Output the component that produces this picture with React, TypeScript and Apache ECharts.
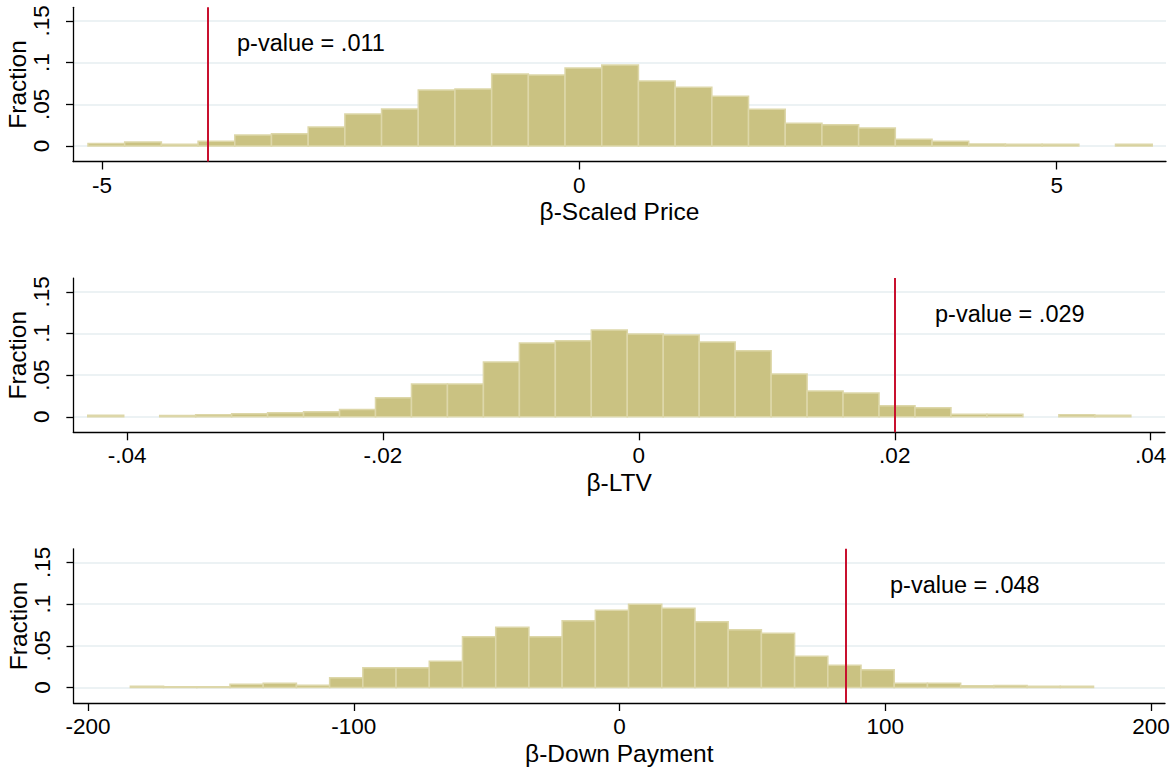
import React, { useEffect, useRef } from "react";
import * as echarts from "echarts";

// ---- Panel 1: beta-Scaled Price ----
const priceBinStart = -5.147;
const priceBinWidth = 0.3844;
const priceFractions = [
  0.003, 0.0048, 0.002, 0.0056, 0.0132, 0.0148, 0.0228, 0.0384, 0.0444, 0.0672,
  0.0684, 0.0864, 0.0852, 0.0936, 0.0972, 0.078, 0.0704, 0.0596, 0.044, 0.0272,
  0.0256, 0.0216, 0.008, 0.0056, 0.0024, 0.002, 0.002, 0, 0.002,
];
const priceTicks = [-5, 0, 5];
const priceObserved = -3.89;
const priceLabel = "p-value = .011";
const priceTitle = "β-Scaled Price";

// ---- Panel 2: beta-LTV ----
const ltvBinStart = -0.04307;
const ltvBinWidth = 0.002811;
const ltvFractions = [
  0.002, 0, 0.0016, 0.0024, 0.0036, 0.0048, 0.006, 0.0088, 0.0228, 0.0392,
  0.0392, 0.0656, 0.0884, 0.0912, 0.104, 0.0992, 0.098, 0.0896, 0.0792, 0.0512,
  0.0308, 0.0284, 0.0132, 0.0108, 0.0032, 0.0032, 0, 0.0024, 0.002,
];
const ltvTicks = [-0.04, -0.02, 0, 0.02, 0.04];
const ltvObserved = 0.0203;
const ltvLabel = "p-value = .029";
const ltvTitle = "β-LTV";

// ---- Panel 3: beta-Down Payment ----
const dpBinStart = -184.1;
const dpBinWidth = 12.5;
const dpFractions = [
  0.0016, 0.001, 0.0008, 0.004, 0.0052, 0.0028, 0.0116, 0.0236, 0.0236, 0.0316,
  0.0608, 0.0724, 0.0608, 0.08, 0.0928, 0.1, 0.0952, 0.0788, 0.0692, 0.0652,
  0.0376, 0.0268, 0.0212, 0.0052, 0.0052, 0.002, 0.0024, 0.0016, 0.0016,
];
const dpTicks = [-200, -100, 0, 100, 200];
const dpObserved = 85.2;
const dpLabel = "p-value = .048";
const dpTitle = "β-Down Payment";

const fractionTicks = [0, 0.05, 0.1, 0.15];
const yTitle = "Fraction";

const FONT = "Arial, 'Liberation Sans', Helvetica, sans-serif";
const BAR_FILL = "#cac282";
const BAR_EDGE = "#ddd7a9";
const RED = "#c8102e";
const GRID_COLOR = "#e6eef1";

const stataNum = (v: number) => {
  const s = String(Math.round(v * 10000) / 10000);
  return s.replace(/^(-?)0\./, "$1.");
};

function binData(start: number, width: number, vals: number[]) {
  const out: number[][] = [];
  vals.forEach((h, i) => {
    if (h > 0) out.push([start + i * width, start + (i + 1) * width, h]);
  });
  return out;
}

export default function App() {
  const ref = useRef<HTMLDivElement>(null);
  useEffect(() => {
    if (!ref.current) return;
    const chart = echarts.init(ref.current, null, { renderer: "svg" });

    const panels = [
      { top: 7.3, xmin: -5.304, xmax: 6.145, left: 73, right: 1175 - 1166, ticks: priceTicks, data: binData(priceBinStart, priceBinWidth, priceFractions), obs: priceObserved, title: priceTitle },
      { top: 278.1, xmin: -0.0442, xmax: 0.04112, left: 73.3, right: 1175 - 1165, ticks: ltvTicks, data: binData(ltvBinStart, ltvBinWidth, ltvFractions), obs: ltvObserved, title: ltvTitle },
      { top: 548.8, xmin: -205.5, xmax: 205.3, left: 73.5, right: 1175 - 1165, ticks: dpTicks, data: binData(dpBinStart, dpBinWidth, dpFractions), obs: dpObserved, title: dpTitle },
    ];
    const gridH = 154.2;

    const option: any = {
      animation: false,
      backgroundColor: "#ffffff",
      textStyle: { fontFamily: FONT },
      grid: panels.map((p) => ({
        left: p.left,
        right: p.right,
        top: p.top,
        height: gridH,
        containLabel: false,
        outerBoundsMode: "none",
      })),
      xAxis: panels.map((p, i) => ({
        type: "value",
        gridIndex: i,
        min: p.xmin,
        max: p.xmax,
        name: p.title,
        nameLocation: "middle",
        nameGap: 37.5,
        nameMoveOverlap: false,
        nameTextStyle: { fontSize: 24.5, color: "#000", fontFamily: FONT },
        axisLine: { show: true, onZero: false, lineStyle: { color: "#000", width: 1.3 } },
        axisTick: { show: true, length: 8, lineStyle: { color: "#000", width: 1.3 }, customValues: p.ticks },
        axisLabel: { fontSize: 22.5, color: "#000", margin: 12, fontFamily: FONT, customValues: p.ticks, formatter: (v: number) => stataNum(v) },
        splitLine: { show: false },
      })),
      yAxis: panels.map((p, i) => ({
        type: "value",
        gridIndex: i,
        min: -0.0186,
        max: 0.1664,
        name: yTitle,
        nameLocation: "middle",
        nameGap: 43,
        nameMoveOverlap: false,
        nameTextStyle: { fontSize: 24.5, color: "#000", fontFamily: FONT },
        axisLine: { show: true, onZero: false, lineStyle: { color: "#000", width: 1.3 } },
        axisTick: { show: true, length: 7, lineStyle: { color: "#000", width: 1.3 }, customValues: fractionTicks },
        axisLabel: { fontSize: 22.5, color: "#000", margin: 20, rotate: 90, fontFamily: FONT, customValues: fractionTicks, formatter: (v: number) => stataNum(v) },
        splitLine: { show: true, lineStyle: { color: GRID_COLOR, width: 1.5 } },
      })),
      series: panels.flatMap((p, i) => [
        {
          type: "custom",
          xAxisIndex: i,
          yAxisIndex: i,
          z: 2,
          encode: { x: [0, 1], y: 2 },
          data: p.data,
          renderItem: (params: any, api: any) => {
            const a = api.coord([api.value(0), api.value(2)]);
            const b = api.coord([api.value(1), 0]);
            return {
              type: "rect",
              shape: { x: a[0], y: a[1], width: b[0] - a[0], height: b[1] - a[1] },
              style: { fill: BAR_FILL, stroke: BAR_EDGE, lineWidth: 1.5 },
            };
          },
        },
        {
          type: "line",
          xAxisIndex: i,
          yAxisIndex: i,
          z: 5,
          data: [],
          markLine: {
            silent: true,
            symbol: "none",
            label: { show: false },
            lineStyle: { color: RED, width: 2, type: "solid" },
            data: [{ xAxis: p.obs }],
          },
        },
      ]),
      graphic: [
        { type: "text", left: 237, top: 31, style: { text: priceLabel, fontSize: 23.5, fill: "#000", fontFamily: FONT } },
        { type: "text", left: 935, top: 302, style: { text: ltvLabel, fontSize: 23.5, fill: "#000", fontFamily: FONT } },
        { type: "text", left: 890, top: 573, style: { text: dpLabel, fontSize: 23.5, fill: "#000", fontFamily: FONT } },
      ],
    };
    chart.setOption(option);
    return () => chart.dispose();
  }, []);
  return (
    <div
      ref={ref}
      style={{ position: "absolute", left: 0, top: 0, width: 1175, height: 769, background: "#fff" }}
    />
  );
}
